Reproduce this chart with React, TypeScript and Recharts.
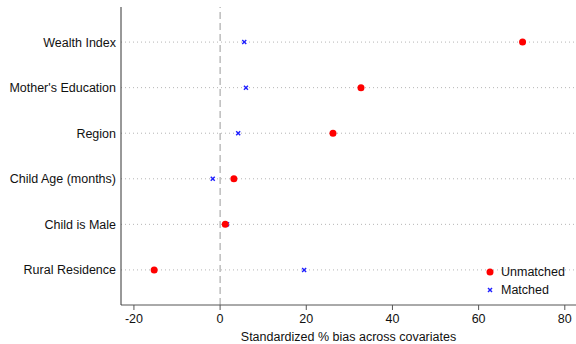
import React from 'react';
import {
  ScatterChart,
  Scatter,
  XAxis,
  YAxis,
  ReferenceLine,
} from 'recharts';

// covariates, bottom row first (position 1 = bottom)
const covariates = [
  'Rural Residence',
  'Child is Male',
  'Child Age (months)',
  'Region',
  "Mother's Education",
  'Wealth Index',
];
const unmatchedBias = [-15.3, 1.2, 3.2, 26.2, 32.7, 70.2];
const matchedBias = [19.5, 1.6, -1.7, 4.2, 6.0, 5.6];
const xTicks = [-20, 0, 20, 40, 60, 80];
const legendItems = [
  { label: 'Unmatched', color: '#ff0000', kind: 'dot' },
  { label: 'Matched', color: '#1f1fff', kind: 'x' },
];

const unmatchedData = covariates.map((name, i) => ({ name, pos: i + 1, bias: unmatchedBias[i] }));
const matchedData = covariates.map((name, i) => ({ name, pos: i + 1, bias: matchedBias[i] }));

const FONT = '"Liberation Sans", Arial, sans-serif';

const RedDot = (props: any) => {
  const { cx, cy } = props;
  if (cx == null || cy == null) return null;
  return <circle cx={cx} cy={cy} r={3.5} fill="#ff0000" />;
};

const BlueX = (props: any) => {
  const { cx, cy } = props;
  if (cx == null || cy == null) return null;
  const s = 2;
  return (
    <g stroke="#1f1fff" strokeWidth={1.4}>
      <line x1={cx - s} y1={cy - s} x2={cx + s} y2={cy + s} />
      <line x1={cx - s} y1={cy + s} x2={cx + s} y2={cy - s} />
    </g>
  );
};

// single-line label, no wrapping
const CovTick = (props: any) => {
  const { y, payload } = props;
  return (
    <text x={116} y={y} dy={4.5} textAnchor="end" fill="#111" fontSize={12.5} fontFamily={FONT}>
      {covariates[payload.value - 1]}
    </text>
  );
};

const LegendBox = () => (
  <div
    style={{
      position: 'absolute',
      left: 484,
      top: 263,
      fontFamily: FONT,
      fontSize: 12.5,
      color: '#111',
      lineHeight: '18px',
    }}
  >
    {legendItems.map((it) => (
      <div key={it.label} style={{ display: 'flex', alignItems: 'center' }}>
        <svg width={12} height={10} style={{ marginRight: 5 }}>
          {it.kind === 'dot' ? (
            <circle cx={6} cy={5} r={3.5} fill={it.color} />
          ) : (
            <g stroke={it.color} strokeWidth={1.4}>
              <line x1={4} y1={3} x2={8} y2={7} />
              <line x1={4} y1={7} x2={8} y2={3} />
            </g>
          )}
        </svg>
        <span>{it.label}</span>
      </div>
    ))}
  </div>
);

export default function App() {
  return (
    <div style={{ position: 'absolute', left: 0, top: 0, width: 576, height: 344, background: '#fff' }}>
      <ScatterChart width={576} height={344} margin={{ top: 7, right: 0, bottom: 0, left: 0 }}>
        <XAxis
          type="number"
          dataKey="bias"
          domain={[-23, 82.6]}
          ticks={xTicks}
          allowDataOverflow
          height={39}
          stroke="#555"
          tickSize={5}
          tickMargin={4}
          tick={{ fill: '#111', fontSize: 12.5, fontFamily: FONT }}
          label={{
            value: 'Standardized % bias across covariates',
            position: 'insideBottom',
            offset: 3,
            fill: '#111',
            fontSize: 12.5,
            fontFamily: FONT,
          }}
        />
        <YAxis
          type="number"
          dataKey="pos"
          domain={[0.23, 6.77]}
          ticks={[1, 2, 3, 4, 5, 6]}
          allowDataOverflow
          width={121}
          stroke="#333"
          tickLine={false}
          tick={<CovTick />}
        />
        {covariates.map((c, i) => (
          <ReferenceLine key={c} y={i + 1} stroke="#b5b5b5" strokeDasharray="1 3" />
        ))}
        <ReferenceLine x={0} stroke="#9a9a9a" strokeDasharray="7 4" />
        <Scatter name="Matched" data={matchedData} shape={<BlueX />} isAnimationActive={false} />
        <Scatter name="Unmatched" data={unmatchedData} shape={<RedDot />} isAnimationActive={false} />
      </ScatterChart>
      <LegendBox />
    </div>
  );
}
